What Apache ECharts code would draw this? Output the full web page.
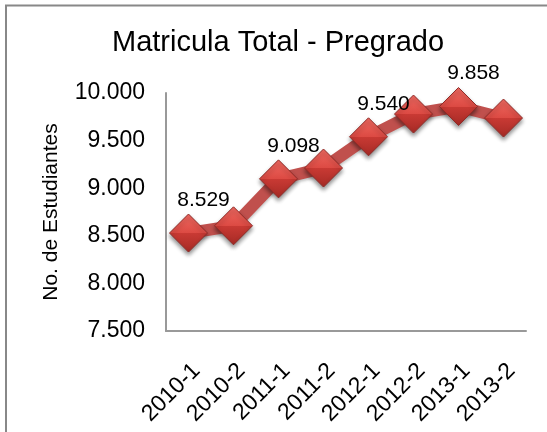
<html>

<head>
    <meta charset="utf-8">
    <title>Matricula Total - Pregrado</title>
    <style>
        html,
        body,
        #chartDiv {
            padding: 0;
            margin: 0;
            height: 100%;
            width: 100%;
            background: #fff;
        }
    </style>
    <script src="https://cdn.jsdelivr.net/npm/echarts@6/dist/echarts.min.js"></script>
</head>

<body>
    <div id="chartDiv"></div>
    <script>
        // datos
        var periodos = ['2010-1', '2010-2', '2011-1', '2011-2', '2012-1', '2012-2', '2013-1', '2013-2'];
        var matricula = [8529, 8605, 9098, 9212, 9540, 9779, 9858, 9737];
        var conEtiqueta = [0, 2, 4, 6]; // puntos que muestran su valor
        var yMin = 7500, yMax = 10000, yPaso = 500;

        var fuente = "'Liberation Sans', Arial, sans-serif";

        // 10000 -> "10.000"
        function miles(v) {
            return String(v).replace(/\B(?=(\d{3})+(?!\d))/g, '.');
        }

        var rombo = {
            type: 'linear', x: 0, y: 0, x2: 0, y2: 1,
            colorStops: [
                { offset: 0, color: '#f06a62' },
                { offset: 0.5, color: '#dc4a43' },
                { offset: 0.5, color: '#c93a34' },
                { offset: 1, color: '#a52a25' }
            ]
        };

        var puntos = matricula.map(function (v, i) {
            return {
                value: v,
                label: { show: conEtiqueta.indexOf(i) >= 0 }
            };
        });

        var chart = echarts.init(document.getElementById('chartDiv'));
        chart.setOption({
            animation: false,
            textStyle: { fontFamily: fuente },
            title: {
                text: 'Matricula Total - Pregrado',
                left: 112,
                top: 28,
                padding: 0,
                textStyle: { fontSize: 29, fontWeight: 'normal', color: '#000', fontFamily: fuente }
            },
            graphic: [{
                type: 'rect',
                shape: { x: 6, y: 5.5, width: 700, height: 600 },
                style: { fill: 'none', stroke: '#888', lineWidth: 2 },
                silent: true
            }],
            grid: {
                left: 166,
                right: 21,
                top: 93,
                bottom: 101
            },
            xAxis: {
                type: 'category',
                data: periodos,
                boundaryGap: true,
                axisLine: { lineStyle: { color: '#999', width: 2 } },
                axisTick: { show: false },
                splitLine: { show: false },
                axisLabel: {
                    interval: 0,
                    rotate: 45,
                    margin: 28,
                    align: 'right',
                    verticalAlign: 'top',
                    fontSize: 23,
                    color: '#000',
                    fontFamily: fuente
                }
            },
            yAxis: {
                type: 'value',
                min: yMin,
                max: yMax,
                interval: yPaso,
                name: 'No. de Estudiantes',
                nameLocation: 'middle',
                nameGap: 104,
                nameTextStyle: { fontSize: 21, color: '#000', fontFamily: fuente },
                axisLine: { show: true, lineStyle: { color: '#999', width: 2 } },
                axisTick: { show: false },
                splitLine: { show: false },
                axisLabel: {
                    margin: 21,
                    fontSize: 23,
                    color: '#000',
                    fontFamily: fuente,
                    formatter: miles
                }
            },
            series: [{
                type: 'line',
                data: puntos,
                symbol: 'diamond',
                symbolSize: 38,
                lineStyle: {
                    color: '#c0504d',
                    width: 12,
                    shadowColor: 'rgba(0,0,0,0.25)',
                    shadowBlur: 3,
                    shadowOffsetY: 2
                },
                itemStyle: {
                    color: rombo,
                    borderColor: '#8e2b27',
                    borderWidth: 1,
                    shadowColor: 'rgba(0,0,0,0.45)',
                    shadowBlur: 4,
                    shadowOffsetY: 3
                },
                label: {
                    position: 'inside',
                    offset: [15, -33],
                    fontSize: 21,
                    color: '#000',
                    fontFamily: fuente,
                    formatter: function (p) { return miles(p.value); }
                }
            }]
        });
    </script>
</body>

</html>
